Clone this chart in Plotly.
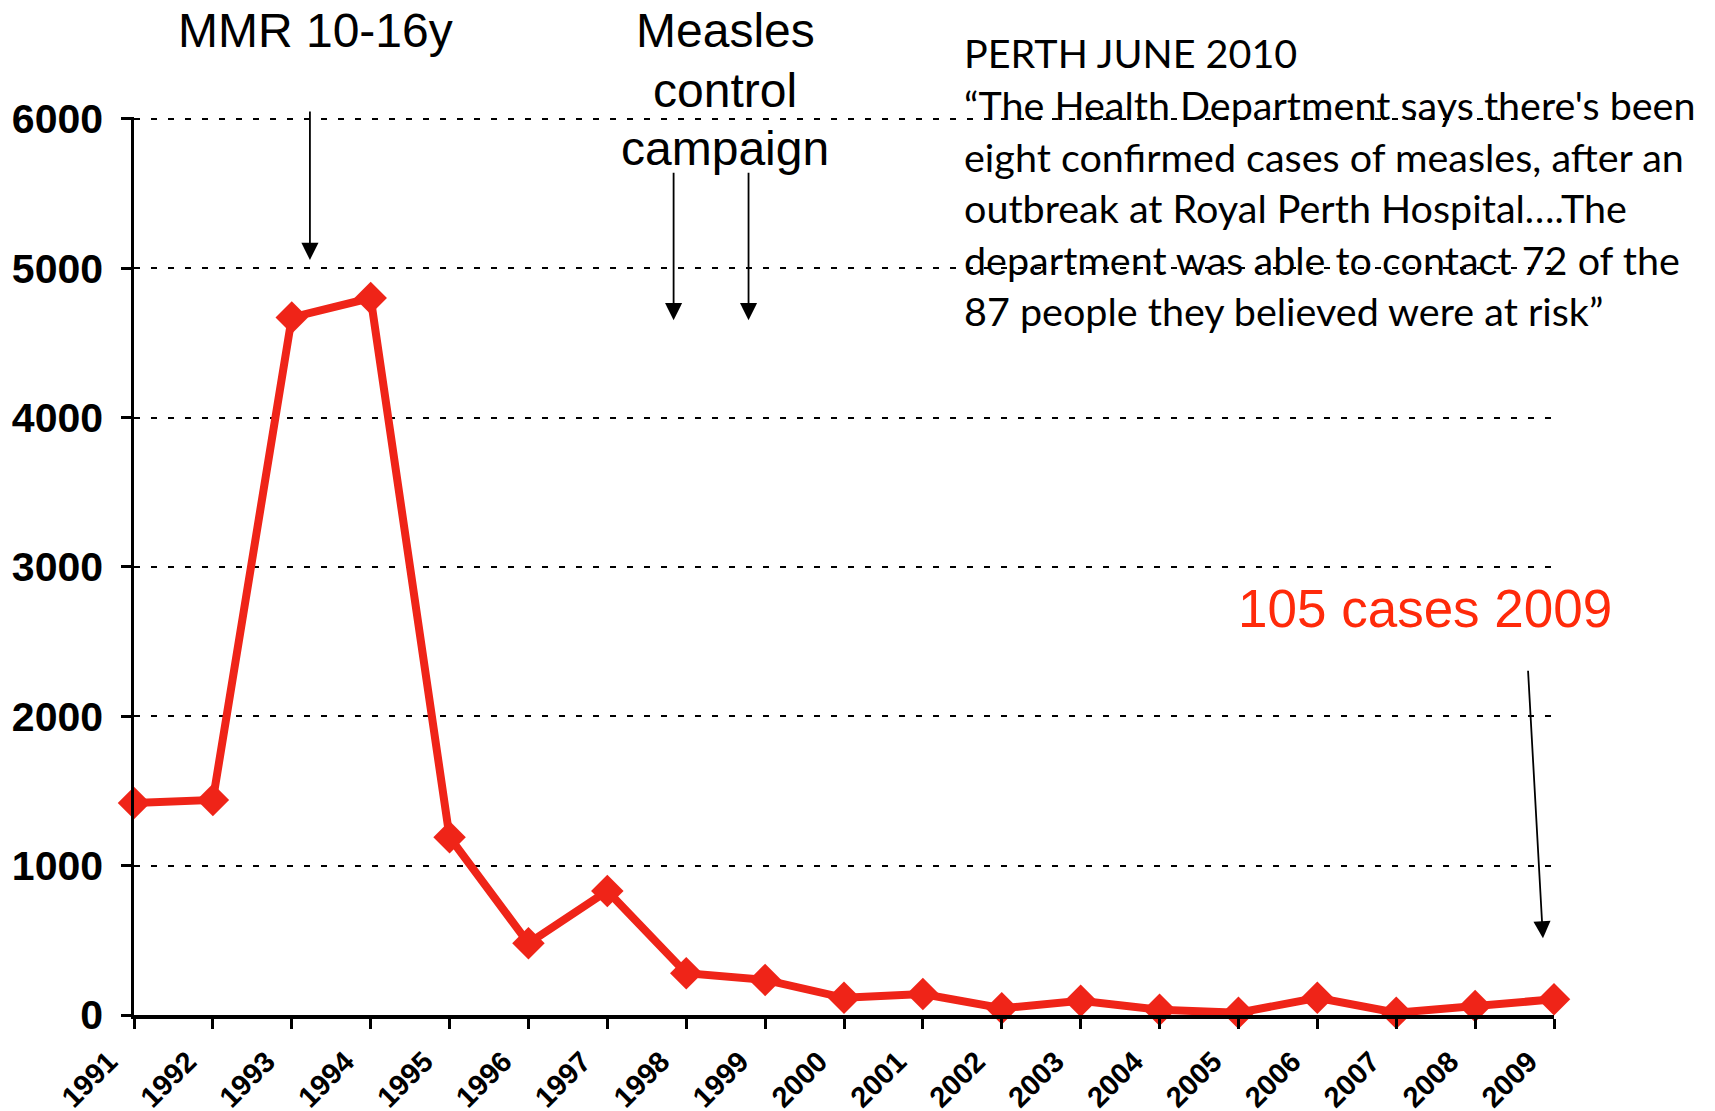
import plotly.graph_objects as go

years = list(range(1991, 2010))
cases = [1420, 1440, 4670, 4800, 1190, 480, 830, 280, 235, 115, 140, 45, 95, 35, 15, 115, 15, 60, 105]
year_labels = [str(y) for y in years]
y_ticks = [0, 1000, 2000, 3000, 4000, 5000, 6000]

W, H = 1715, 1111
L, R, T, B = 134, 161, 117, 96
PW, PH = W - L - R, H - T - B
YMAX = 6012

def px(x):
    return (x - L) / PW

def py(y):
    return (H - B - y) / PH

RED = "#EF2418"

fig = go.Figure()
fig.add_trace(go.Scatter(
    x=years, y=cases, mode="lines+markers",
    line=dict(color=RED, width=8),
    marker=dict(symbol="diamond", size=25, color=RED),
    cliponaxis=False, showlegend=False,
))

fig.update_layout(
    width=W, height=H,
    margin=dict(l=L, r=R, t=T, b=B),
    plot_bgcolor="white", paper_bgcolor="white",
    font=dict(family="Liberation Sans, Arial, sans-serif", color="black"),
    xaxis=dict(
        range=[1991, 2009], tickvals=years, ticktext=year_labels,
        tickangle=-45, tickfont=dict(size=29, family="Liberation Sans", weight="bold"),
        showgrid=False, zeroline=False, automargin=False,
        showline=True, linecolor="black", linewidth=4,
        ticks="outside", ticklen=10, tickwidth=2.5, tickcolor="black",
        ticklabelstandoff=4, ticklabelshift=-25,
    ),
    yaxis=dict(
        range=[0, YMAX], tickvals=y_ticks,
        tickfont=dict(size=41, family="Liberation Sans", weight="bold"),
        showgrid=True, gridcolor="black", gridwidth=2, griddash="6px,11px",
        zeroline=False, automargin=False,
        showline=True, linecolor="black", linewidth=2.5,
        ticks="outside", ticklen=10, tickwidth=2.5, tickcolor="black",
        ticklabelstandoff=10,
    ),
)

ann = []
ann.append(dict(text="MMR 10-16y", x=px(315), y=py(31), xref="paper", yref="paper",
                showarrow=False, xanchor="center", yanchor="middle",
                font=dict(size=48, family="Liberation Sans", color="black")))
for txt, yy in [("Measles", 31), ("control", 90), ("campaign", 148)]:
    ann.append(dict(text=txt, x=px(725), y=py(yy), xref="paper", yref="paper",
                    showarrow=False, xanchor="center", yanchor="middle",
                    font=dict(size=48, family="Liberation Sans", color="black")))
perth = [
    "PERTH JUNE 2010",
    "\u201cThe Health Department says there's been",
    "eight confirmed cases of measles, after an",
    "outbreak at Royal Perth Hospital\u2026.The",
    "department was able to contact 72 of the",
    "87 people they believed were at risk\u201d",
]
for i, line in enumerate(perth):
    ann.append(dict(text=line, x=px(962), y=py(53 + 51.5 * i), xref="paper", yref="paper",
                    showarrow=False, xanchor="left", yanchor="middle",
                    font=dict(size=39.5, family="Lato", color="black")))
ann.append(dict(text="105 cases 2009", x=px(1425), y=py(608), xref="paper", yref="paper",
                showarrow=False, xanchor="center", yanchor="middle",
                font=dict(size=53, family="Liberation Sans", color="#FF2A0A")))

arrows = [
    (1993.23, 5055, 1993.23, 6059),
    (1997.84, 4652, 1997.84, 5648),
    (1998.79, 4652, 1998.79, 5648),
    (2008.86, 513, 2008.67, 2315),
]
for x0, y0, x1, y1 in arrows:
    ann.append(dict(x=x0, y=y0, ax=x1, ay=y1, xref="x", yref="y", axref="x", ayref="y",
                    text="", showarrow=True, arrowhead=2, arrowsize=1.9, arrowwidth=1.8,
                    arrowcolor="black", standoff=0))
fig.update_layout(annotations=ann)

fig.write_html("out.html", config={"displayModeBar": False},
               post_script="document.body.style.margin='0';document.body.style.padding='0';")
